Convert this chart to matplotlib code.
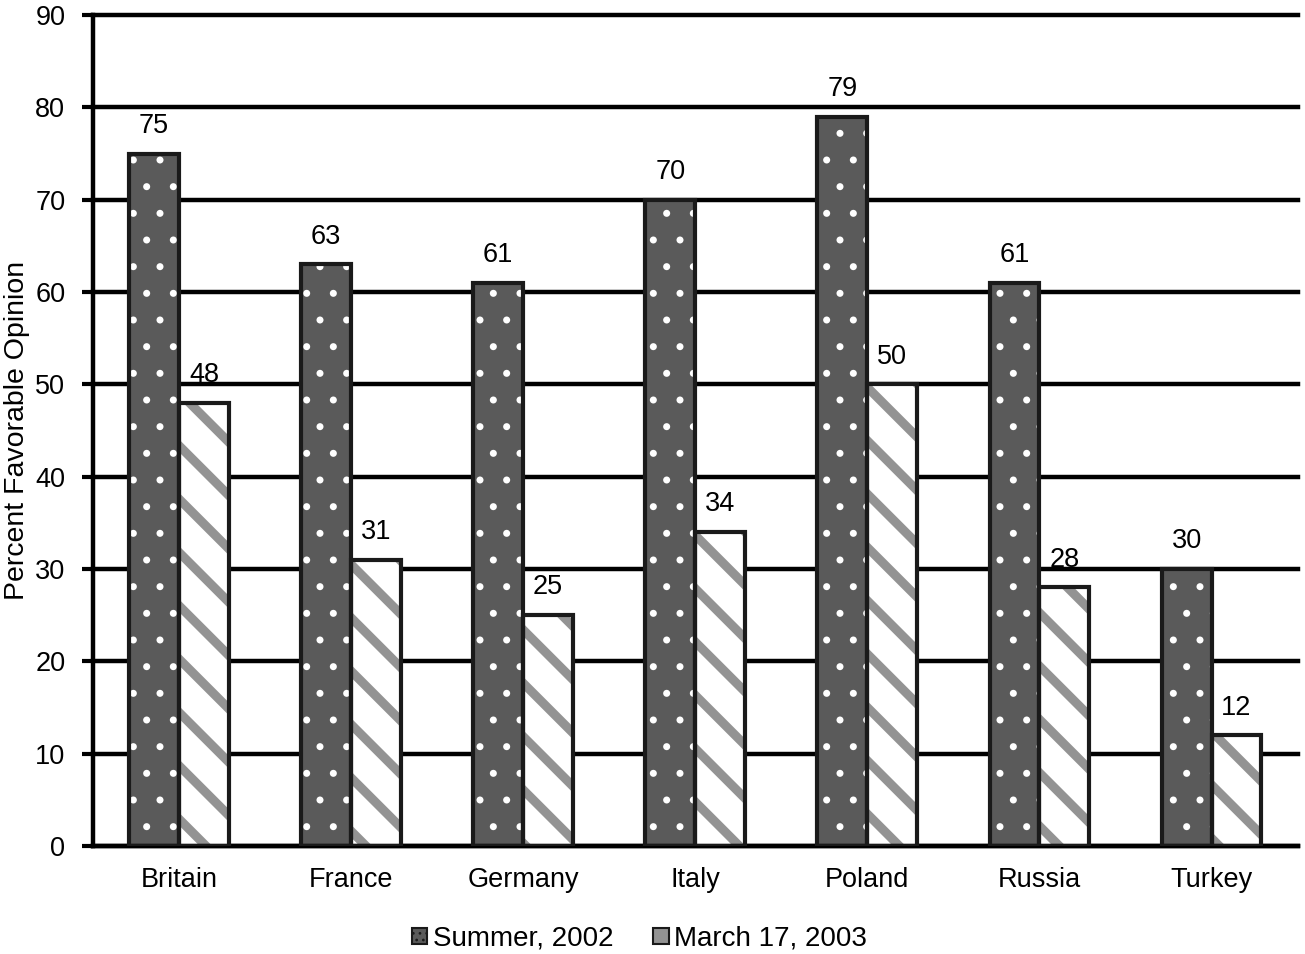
import numpy as np
import matplotlib.pyplot as plt
from matplotlib.patches import Patch

plt.rcParams['font.family'] = ['Liberation Sans', 'DejaVu Sans']

countries = ['Britain', 'France', 'Germany', 'Italy', 'Poland', 'Russia', 'Turkey']
summer_2002 = [75, 63, 61, 70, 79, 61, 30]
march_2003 = [48, 31, 25, 34, 50, 28, 12]

# render at 160 dpi so the hatch tiles come out coarser; k scales point sizes back
DPI = 160
k = 100 / DPI

fig = plt.figure(figsize=(1305 / DPI, 954 / DPI), dpi=DPI)
ax = fig.add_axes([0.0713, 0.1132, 0.923, 0.871])

x = np.arange(len(countries))
w = 0.29
fs = 19.5 * k

ax.set_axisbelow(True)
ax.yaxis.grid(True, color='black', linewidth=3.2 * k)

plt.rcParams['hatch.linewidth'] = 1.2 * k
ax.bar(x - w/2, summer_2002, w, color='#5a5a5a', edgecolor='white', hatch='.', linewidth=0, zorder=2)
ax.bar(x - w/2, summer_2002, w, fill=False, edgecolor='#1a1a1a', linewidth=3 * k, zorder=3)

plt.rcParams['hatch.linewidth'] = 6.5 * k
ax.bar(x + w/2, march_2003, w, color='white', edgecolor='#939393', hatch='\\', linewidth=0, zorder=2)
ax.bar(x + w/2, march_2003, w, fill=False, edgecolor='#1a1a1a', linewidth=3 * k, zorder=3)

for i in range(len(countries)):
    ax.text(x[i] - w/2, summer_2002[i] + 3.0, str(summer_2002[i]), ha='center', va='center', fontsize=fs)
    ax.text(x[i] + w/2, march_2003[i] + 3.0, str(march_2003[i]), ha='center', va='center', fontsize=fs)

ax.set_xlim(-0.5, len(countries) - 0.5)
ax.set_ylim(0, 90)
ax.set_yticks(range(0, 91, 10))
ax.set_xticks(x)
ax.set_xticklabels(countries, fontsize=fs)
ax.tick_params(axis='y', labelsize=fs, length=8 * k, width=3 * k, pad=12 * k)
ax.tick_params(axis='x', length=0, pad=15 * k)
for gl in ax.get_ygridlines():
    gl.set_clip_on(False)

for s in ['top', 'right']:
    ax.spines[s].set_visible(False)
ax.spines['left'].set_linewidth(3.2 * k)
ax.spines['bottom'].set_linewidth(3.2 * k)

ax.set_ylabel('Percent Favorable Opinion', fontsize=20.5 * k, va='center')
ax.yaxis.set_label_coords(-0.063, 0.5)

plt.rcParams['hatch.linewidth'] = 1.0 * k
handles = [Patch(facecolor='#5a5a5a', edgecolor='#1a1a1a', hatch='....', linewidth=1.5 * k),
           Patch(facecolor='#939393', edgecolor='#1a1a1a', linewidth=1.5 * k)]
fig.legend(handles, ['Summer, 2002', 'March 17, 2003'], loc='lower center', ncol=2,
           bbox_to_anchor=(0.49, -0.024), frameon=False, fontsize=20 * k,
           handlelength=0.55, handleheight=0.55, handletextpad=0.2, columnspacing=1.45)

fig.savefig('out.png', dpi=DPI)
